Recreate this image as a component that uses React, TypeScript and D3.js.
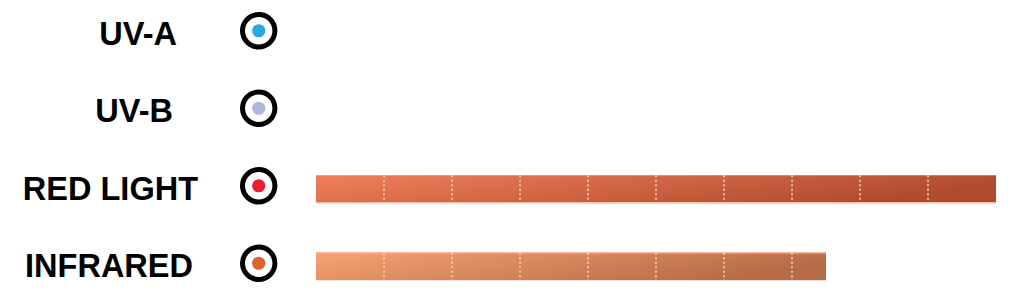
import React from "react";
import * as d3 from "d3";

const categories = ["UV-A", "UV-B", "RED LIGHT", "INFRARED"];
const values = [0, 0, 10, 7.5];
const dotColors = ["#29A8E0", "#B0B7D8", "#EC1C2E", "#E0622B"];
const barStart = ["#F07E5A", "#F07E5A", "#F1805B", "#F7A273"];
const barEnd = ["#B04C2E", "#B04C2E", "#B04C2E", "#B66D47"];
const tickValues = [1, 2, 3, 4, 5, 6, 7, 8, 9];
const labelRight = [177, 173, 198, 193];

const W = 1018;
const H = 302;

export default function App() {
  const y = d3.scaleBand<string>().domain(categories).range([-8, 302]).paddingInner(0).paddingOuter(0);
  const x = d3.scaleLinear().domain([0, 10]).range([316, 996]);
  const cy = (c: string) => (y(c) as number) + y.bandwidth() / 2;
  const barH = 27.5;

  return (
    <svg width={W} height={H} style={{ position: "absolute", left: 0, top: 0 }}>
      <defs>
        {categories.map((c, i) => (
          <linearGradient key={c} id={`g${i}`} x1="0" y1="0" x2="1" y2="0.3">
            <stop offset="0%" stopColor={barStart[i]} />
            <stop offset="100%" stopColor={barEnd[i]} />
          </linearGradient>
        ))}
      </defs>
      <rect width={W} height={H} fill="#fff" />
      {categories.map((c, i) => {
        const yc = cy(c);
        const w = x(values[i]) - x(0);
        return (
          <g key={c}>
            <text
              x={labelRight[i]}
              y={yc + 13.8}
              textAnchor="end"
              fontFamily="'Liberation Sans', Arial, sans-serif"
              fontWeight="bold"
              fontSize={32.5}
              fill="#000"
            >
              {c}
            </text>
            <circle cx={258.7} cy={yc} r={16.2} fill="#fff" stroke="#000" strokeWidth={5} />
            <circle cx={258.7} cy={yc} r={6.6} fill={dotColors[i]} />
            {w > 0 && (
              <g>
                <rect x={x(0)} y={yc - 10.5} width={w} height={barH} fill={`url(#g${i})`} />
                {i === 2 && (
                  <line x1={x(0)} x2={x(0) + w} y1={yc - 10.5 + barH} y2={yc - 10.5 + barH} stroke="#F7B9A0" strokeWidth={1.5} />
                )}
                {i === 3 && (
                  <line x1={x(0)} x2={x(0) + w} y1={yc - 10.5} y2={yc - 10.5} stroke="#F2B6A0" strokeWidth={1.5} />
                )}
                {tickValues
                  .filter((t) => t < values[i])
                  .map((t) => (
                    <line
                      key={t}
                      x1={x(t)}
                      x2={x(t)}
                      y1={yc - 10.5}
                      y2={yc - 10.5 + barH}
                      stroke="#FAD3C0"
                      strokeWidth={1.6}
                      strokeDasharray="2,2.5"
                    />
                  ))}
              </g>
            )}
          </g>
        );
      })}
    </svg>
  );
}
